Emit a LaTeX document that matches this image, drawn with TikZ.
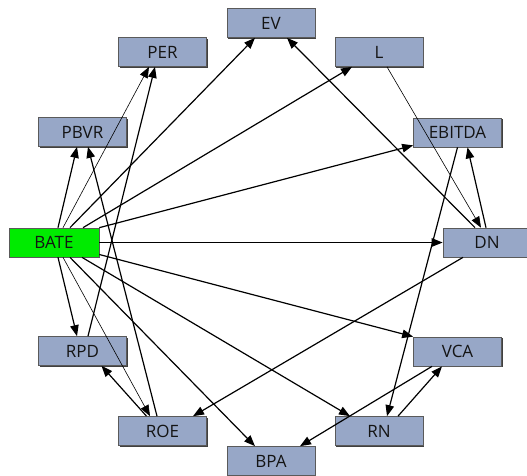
\documentclass[tikz,border=0pt]{standalone}
\usepackage{fontspec}
\setmainfont{Open Sans}
\usetikzlibrary{arrows.meta,shadows}
\definecolor{boxfill}{RGB}{151,167,199}
\definecolor{batefill}{RGB}{0,235,0}
\definecolor{boxline}{RGB}{90,90,90}
\definecolor{txt}{RGB}{20,20,20}
\tikzset{
  vbox/.style={draw=boxline, line width=0.7pt, fill=boxfill, minimum width=88pt, minimum height=29pt,
    inner sep=0pt, text=txt, font=\fontsize{17}{18}\selectfont,
    drop shadow={shadow xshift=1.2pt, shadow yshift=-1.2pt, opacity=1, fill=black!75}},
  gbox/.style={vbox, fill=batefill, minimum width=90pt},
  link/.style={line width=1.2pt, -{Triangle[length=11pt,width=8.5pt]}},
  thinlink/.style={line width=0.6pt, -{Triangle[length=11pt,width=8.5pt]}}
}
\begin{document}
\begin{tikzpicture}[x=1pt,y=-1pt]
\useasboundingbox (0,0) rectangle (527,475);
\node[vbox] (ev) at (271,23) {EV};
\node[vbox] (per) at (162.5,52) {PER};
\node[vbox] (l) at (379,52) {L};
\node[vbox] (pbvr) at (82.5,132) {PBVR};
\node[vbox] (ebitda) at (457.5,132.5) {EBITDA};
\node[gbox] (bate) at (54,242.5) {BATE};
\node[vbox] (dn) at (487,242.5) {DN};
\node[vbox] (rpd) at (82.5,351) {RPD};
\node[vbox] (vca) at (457.5,351.5) {VCA};
\node[vbox] (roe) at (162.5,431) {ROE};
\node[vbox] (rn) at (379,431) {RN};
\node[vbox] (bpa) at (271,461) {BPA};

\draw[link] ([xshift=4pt]bate.north) -- ([xshift=-5.5pt]pbvr.south);
\draw[thinlink] ([xshift=9pt]bate.north) -- ([xshift=-13.5pt]per.south);
\draw[link] ([xshift=16pt]bate.north) -- ([xshift=-16pt]ev.south);
\draw[link] ([xshift=29pt]bate.north) -- ([xshift=-27pt]l.south);
\draw[link] (bate.north east) -- ([yshift=2pt]ebitda.south west);
\draw[link] (bate.east) -- (dn.west);
\draw[link] ([yshift=-12pt]bate.east) -- (vca.north west);
\draw[link] ([xshift=28pt]bate.south) -- ([xshift=-29pt]rn.north);
\draw[link] ([xshift=16pt]bate.south) -- ([xshift=-16pt]bpa.north);
\draw[thinlink] ([xshift=9pt]bate.south) -- ([xshift=-12.5pt]roe.north);
\draw[link] ([xshift=4pt]bate.south) -- ([xshift=-5.5pt]rpd.north);

\draw[link] ([xshift=5.5pt]rpd.north) -- ([xshift=-7.5pt]per.south);
\draw[link] ([xshift=-5.5pt]roe.north) -- ([xshift=5.5pt]pbvr.south);
\draw[link] ([xshift=-16pt]roe.north) -- ([xshift=19pt]rpd.south);
\draw[link] ([xshift=-12pt]dn.north) -- ([xshift=16pt]ev.south);
\draw[thinlink] ([xshift=8pt]l.south) -- ([xshift=-6pt]dn.north);
\draw[link] ([xshift=-1pt]dn.north) -- ([xshift=10pt]ebitda.south);
\draw[link] (ebitda.south) -- ([xshift=8pt]rn.north);
\draw[link] ([xshift=-24pt]dn.south) -- ([xshift=30.5pt]roe.north);
\draw[link] ([xshift=19pt]rn.north) -- ([xshift=-15.5pt]vca.south);
\draw[link] ([xshift=-25.5pt]vca.south) -- ([xshift=29pt]bpa.north);
\end{tikzpicture}
\end{document}
